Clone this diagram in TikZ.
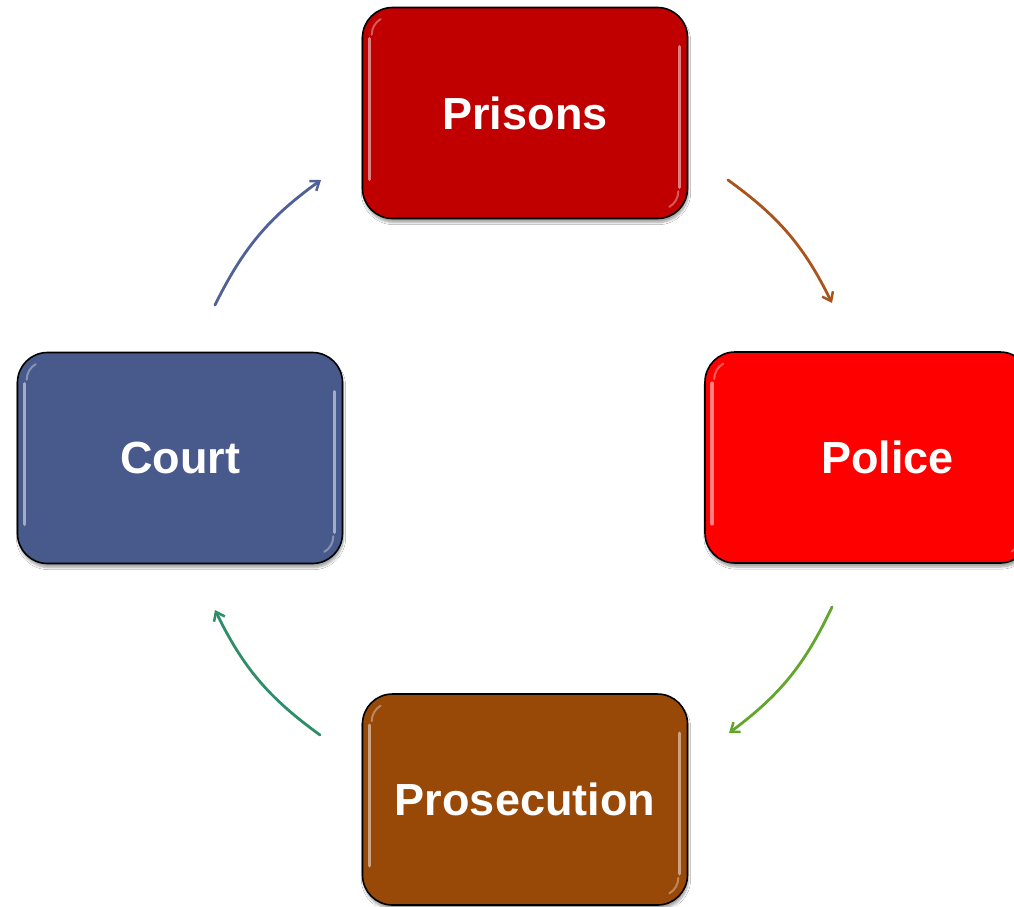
\documentclass[tikz,border=0pt]{standalone}
\usepackage{fontspec}
\setmainfont{Liberation Sans}
\usetikzlibrary{arrows.meta,calc,shadows.blur}
\definecolor{prisonred}{HTML}{C00000}
\definecolor{policered}{HTML}{FF0000}
\definecolor{courtblue}{HTML}{485A8B}
\definecolor{prosbrown}{HTML}{984807}
\definecolor{arrblue}{HTML}{4F6198}
\definecolor{arrbrown}{HTML}{A9541C}
\definecolor{arrgreen}{HTML}{62A62C}
\definecolor{arrteal}{HTML}{2E8E6A}
\tikzset{
  stagebox/.style={draw=black, line width=1.6pt, rounded corners=30pt,
    minimum width=325pt, minimum height=211pt, inner sep=0pt,
    text=white, font=\fontsize{45}{54}\selectfont\bfseries,
    blur shadow={shadow xshift=1pt, shadow yshift=-4pt, shadow blur steps=6, shadow opacity=35}},
  gloss/.style={white, opacity=0.5, line width=3.5pt, line cap=round},
  cyclearrow/.style={line width=2.8pt, line cap=round, -{Straight Barb[length=8pt,width=12pt,line width=2.5pt]}, bend left=14}
}
\begin{document}
\begin{tikzpicture}[x=1pt,y=-1pt]
\clip (0,0) rectangle (1014,906);
\fill[white] (0,0) rectangle (1014,906);

\node[stagebox, fill=prisonred] (prisons) at (525,113) {Prisons};
\node[stagebox, fill=policered] (police) at (867.5,457.5) {\hspace*{40pt}Police};
\node[stagebox, fill=prosbrown] (prosecution) at (525,799.5) {Prosecution};
\node[stagebox, fill=courtblue] (court) at (180,458) {Court};

\foreach \n in {prisons,police,prosecution,court}{
  \draw[gloss] ($(\n.north west)+(8,32)$) -- ($(\n.south west)+(8,-40)$);
  \draw[gloss] ($(\n.north east)+(-9,40)$) -- ($(\n.south east)+(-9,-32)$);
  \draw[gloss, opacity=0.35, line width=2pt] ($(\n.north west)+(10,28)$) arc[start angle=180, end angle=240, radius=18];
  \draw[gloss, opacity=0.35, line width=2pt] ($(\n.south east)+(-10,-28)$) arc[start angle=0, end angle=60, radius=18];
}

\coordinate (c1) at (215,305);
\coordinate (c2) at (321,180);
\coordinate (p1) at (728,180);
\coordinate (p2) at (832,303);
\coordinate (q1) at (832,607);
\coordinate (q2) at (729,733);
\coordinate (r1) at (320,735);
\coordinate (r2) at (215,610);

\draw[cyclearrow, arrblue] (c1) to (c2);
\draw[cyclearrow, arrbrown] (p1) to (p2);
\draw[cyclearrow, arrgreen] (q1) to (q2);
\draw[cyclearrow, arrteal] (r1) to (r2);
\end{tikzpicture}
\end{document}
